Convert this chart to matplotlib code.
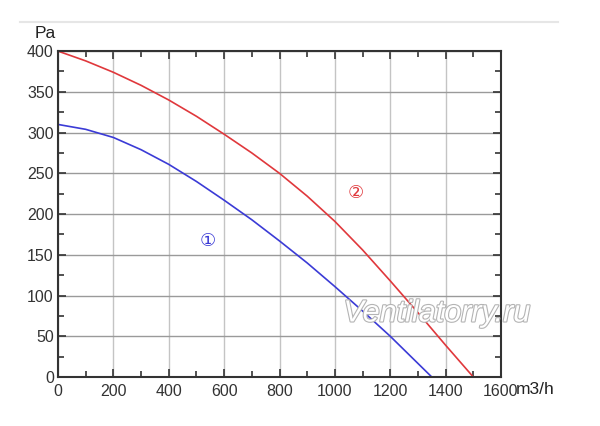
import matplotlib.pyplot as plt
import matplotlib.patheffects as pe
from matplotlib.ticker import MultipleLocator

plt.rcParams['font.family'] = ['Liberation Sans', 'DejaVu Sans']

# curve 1 (blue) and curve 2 (red)
flow_1 = [0, 100, 200, 300, 400, 500, 600, 700, 800, 900, 1000, 1100, 1200, 1275, 1350]
pres_1 = [310, 304, 294, 279, 261, 240, 217, 193, 167, 140, 111, 81, 50, 25, 0]

flow_2 = [0, 100, 200, 300, 400, 500, 600, 700, 800, 900, 1000, 1100, 1200, 1300, 1400, 1500]
pres_2 = [400, 388, 374, 358, 340, 320, 298, 275, 250, 222, 191, 156, 118, 79, 39, 0]

fig = plt.figure(figsize=(6, 4.26), dpi=100)
ax = fig.add_axes([0.0967, 0.115, 0.7383, 0.765])

ax.plot(flow_1, pres_1, color='#3b3bd6', lw=1.2)
ax.plot(flow_2, pres_2, color='#e0383c', lw=1.2)

ax.set_xlim(0, 1600)
ax.set_ylim(0, 400)
ax.xaxis.set_major_locator(MultipleLocator(200))
ax.xaxis.set_minor_locator(MultipleLocator(100))
ax.yaxis.set_major_locator(MultipleLocator(50))
ax.yaxis.set_minor_locator(MultipleLocator(25))

ax.grid(axis='x', which='major', color='#c4c4c4', lw=1)
ax.grid(axis='y', which='major', color='#9a9a9a', lw=1)
ax.set_axisbelow(True)

for s in ax.spines.values():
    s.set_color('#333333')
    s.set_linewidth(1.5)

ax.tick_params(which='both', direction='in', top=True, right=True,
               color='#333333', labelsize=11.5, labelcolor='#333333')
ax.tick_params(which='major', length=6, width=1.2)
ax.tick_params(which='minor', length=4, width=1.2)
ax.tick_params(axis='x', pad=5)
ax.tick_params(axis='y', pad=3)

fig.text(0.075, 0.922, 'Pa', fontsize=12.5, ha='center', va='center', color='#222222')
fig.text(0.86, 0.085, 'm3/h', fontsize=12.5, ha='left', va='center', color='#222222')

ax.text(542, 167, '①', color='#3b3bd6', fontsize=13, ha='center', va='center',
        family=['DejaVu Sans', 'Noto Sans CJK SC'])
ax.text(1076, 226, '②', color='#e0383c', fontsize=13, ha='center', va='center',
        family=['DejaVu Sans', 'Noto Sans CJK SC'])

wm = ax.text(1368, 78, 'Ventilatorry.ru', fontsize=22, style='italic',
             ha='center', va='center', color='white', zorder=5)
wm.set_path_effects([pe.Stroke(linewidth=1.6, foreground='#b4b4b4'), pe.Normal()])

# thin separator line at the top
fig.add_artist(plt.Line2D([0.033, 0.93], [0.948, 0.948], color='#e6e6e6', lw=1.5))

fig.savefig('out.png', dpi=100)
